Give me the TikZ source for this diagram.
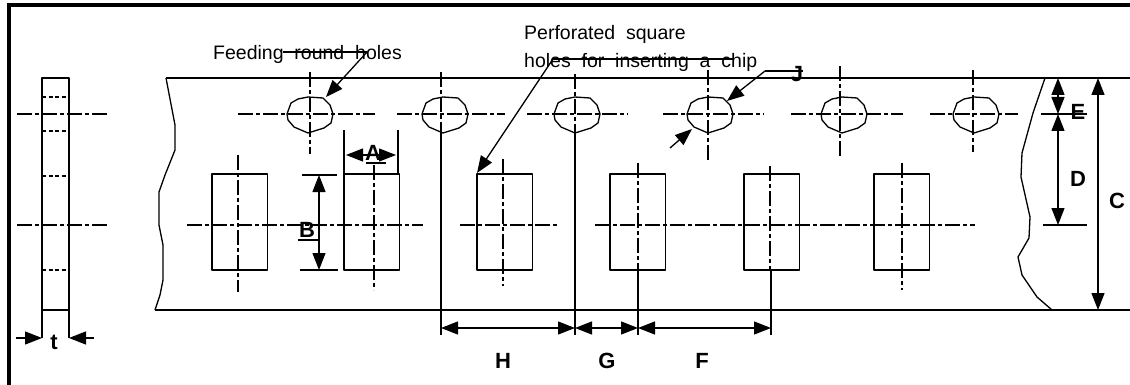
\documentclass[tikz,border=0pt]{standalone}
\usepackage{fontspec}
\setmainfont{Liberation Sans}
\newfontfamily\notefont[WordSpace=2]{Liberation Sans}
\usetikzlibrary{arrows.meta}
\tikzset{
	outline/.style={line width=1.3pt},
	centerline/.style={line width=1.3pt,dash pattern=on 15pt off 3pt on 4pt off 3pt},
	dim/.style={line width=1.3pt,<->},
	leader/.style={line width=1.3pt,->},
	letter/.style={font=\fontsize{22}{24}\selectfont\bfseries,inner sep=0pt},
	note/.style={font=\fontsize{19.5}{25}\notefont,inner sep=0pt,align=left}
}
\begin{document}
\begin{tikzpicture}[x=1pt,y=-1pt,>={Triangle[length=17pt,width=13pt]},line join=round]
	\useasboundingbox (0,0) rectangle (1130,385);
	\draw[line width=3.6pt,line join=miter] (9,385)--(9,5)--(1130,5);
	% side view of the tape
	\draw[outline] (42,78) rectangle (69,310);
	\foreach \y in {97,131,176,270} \draw[outline,dash pattern=on 4pt off 2.5pt] (42,\y)--(69,\y);
	\foreach \y in {114,225} \draw[centerline] (17,\y)--(107,\y);
	\path (42,310) coordinate (t_1) (69,310) coordinate (t_2)
	(42,338) coordinate (t_3) (69,338) coordinate (t_4)
	(16,338) coordinate (t_5) (94,338) coordinate (t_6);
	\draw[outline] (t_1)--(t_3) (t_2)--(t_4);
	\draw[leader] (t_5)--(t_3);
	\draw[leader] (t_6)--(t_4);
	\node[letter] (t) at (54,342) {t};
	% tape edges
	\draw[outline] (166,78)--(1130,78) (155,310)--(1130,310);
	\draw[outline] (166,78)--(175,125)--(175,150)--(165,175)--(159,192)--(159,225)--(163,245)--(163,280)--(160,295)--(155,310);
	\draw[outline] (1045,78)--(1033,113)--(1022,153)--(1021,177)--(1030,217)--(1029,238)--(1018,257)--(1022,275)--(1037,297)--(1052,310);
	% round holes
	\foreach \x/\c in {310/310,445/441,577/575,710/708,844/840,976/973}
	{
		\draw[outline,shift={(\x,115)}] (-23,-1)--(-19,-12)--(-12,-16)--(-2,-18)--(13,-17)--(20,-10)--(23,-1)--(21,8)--(14,13)--(-2,18)--(-16,12)--(-22,5)--cycle;
		\coordinate (R_\c) at (\c,133);
	}
	\draw[centerline] (238,114)--(375,114) (397,114)--(505,114) (527,114)--(628,114)
	(663,114)--(764,114) (791,114)--(903,114) (930,114)--(1018,114);
	\draw[centerline] (310,72)--(310,154) (441,72)--(441,133) (575,74)--(575,133)
	(708,70)--(708,160) (840,66)--(840,158) (973,70)--(973,152);
	% square holes
	\foreach \x in {212,344,477,610,744,874} \draw[outline] (\x,174) rectangle +(55.5,96);
	\draw[centerline] (238,155)--(238,292) (374,165)--(374,290) (503,159)--(503,286)
	(638,163)--(638,270) (770,166)--(770,270) (902,163)--(902,290);
	\draw[centerline] (187,225)--(423,225) (460,225)--(559,225) (595,225)--(975,225);
	% dimensions
	\path (441,335) coordinate (H_1) (575,335) coordinate (H_2) (638,335) coordinate (G_2) (771,335) coordinate (F_2)
	(441,328) coordinate (H_3) (575,328) coordinate (H_4) (638,328) coordinate (G_4) (771,328) coordinate (F_4);
	\draw[outline] (R_441)--(H_1) (R_575)--(H_2) (638,270)--(G_2) (771,270)--(F_2);
	\draw[dim] (H_3)--(H_4);
	\draw[dim] (H_4)--(G_4);
	\draw[dim] (G_4)--(F_4);
	\node[letter] (H) at (503,361) {H};
	\node[letter] (G) at (607,361) {G};
	\node[letter] (F) at (702,361) {F};
	\draw[outline] (344,130)--(344,174) (398,130)--(398,174);
	\draw[dim] (346,155)--(396,155);
	\node[letter] (A) at (373,153) {A};
	\draw[outline] (366,163)--(386,163);
	\draw[outline] (302,175)--(337,175) (300,270)--(338,270);
	\draw[dim] (319,175)--(319,270);
	\node[letter] (B) at (307,230) {B};
	\draw[outline] (298,240)--(318,240);
	\draw[outline] (1041,114)--(1087,114) (1043,225)--(1087,225);
	\draw[dim] (1058,78)--(1058,114);
	\draw[dim] (1058,114)--(1058,225);
	\draw[dim] (1098,78)--(1098,310);
	\node[letter] (E) at (1078,112) {E};
	\node[letter] (D) at (1078,179) {D};
	\node[letter] (C) at (1117,201) {C};
	% notes and leaders
	\node[note,anchor=west] (feed) at (213,54) {Feeding round holes};
	\draw[outline] (283,52)--(367,52);
	\draw[leader] (367,52)--(326,97);
	\node[note,anchor=north west] (perf) at (524,25) {Perforated square\\[3pt]holes for inserting a chip};
	\draw[outline] (553,59)--(733,59);
	\draw[leader] (553,59)--(477,173);
	\node[letter] (J) at (797,74) {J};
	\draw[outline] (803,71)--(765,71);
	\draw[leader] (765,71)--(727,101);
	\draw[leader] (670,148)--(692,129);
\end{tikzpicture}
\end{document}
